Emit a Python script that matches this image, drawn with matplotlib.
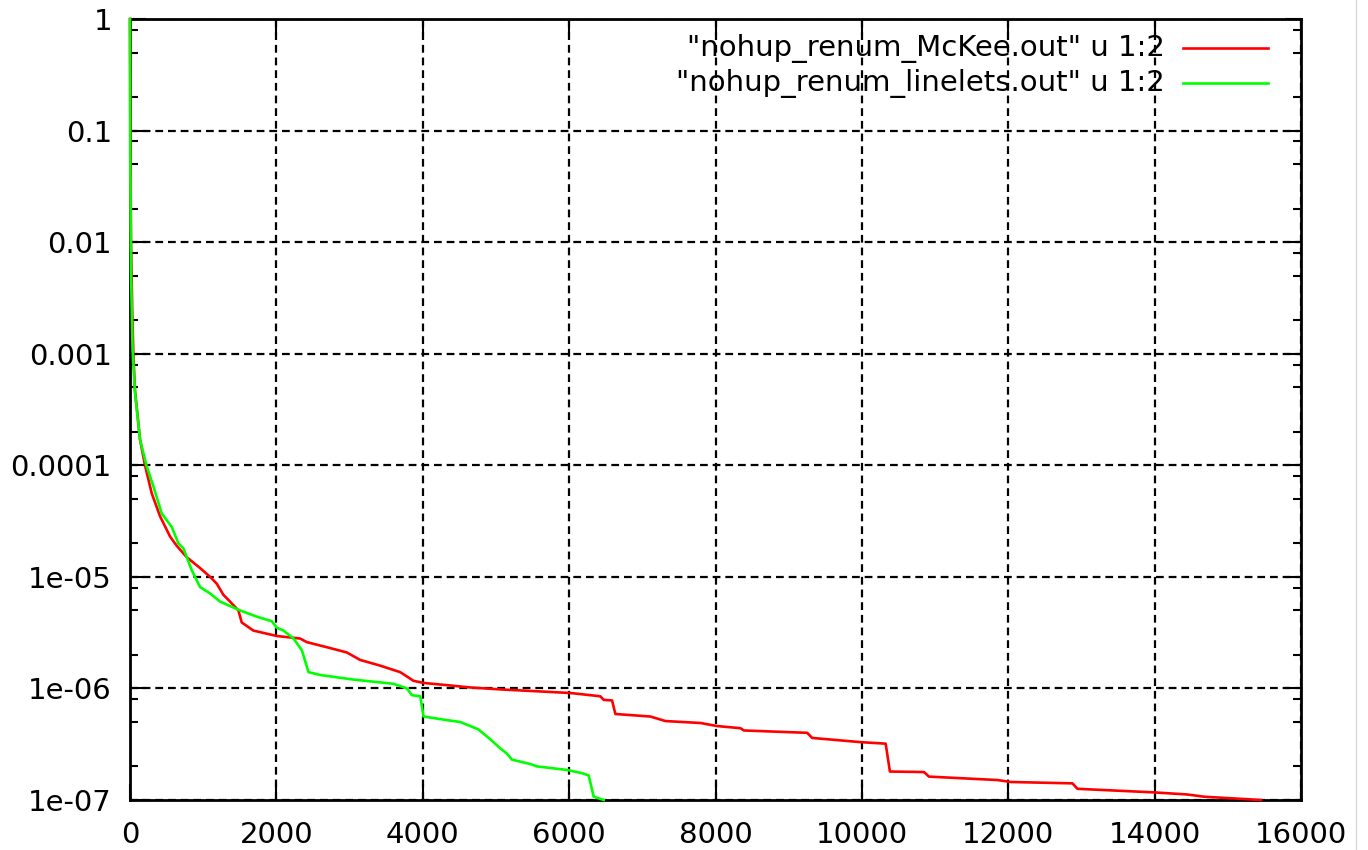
import matplotlib
matplotlib.use("Agg")
import matplotlib.pyplot as plt
from matplotlib.ticker import FixedLocator, FixedFormatter, LogLocator, NullFormatter
from matplotlib.lines import Line2D

# residual histories
mckee_it = [0, 4, 14, 30, 46, 68, 137, 205, 297, 410, 547, 638, 775, 957, 1094,
            1185, 1276, 1367, 1481, 1527, 1686, 2006, 2325, 2416, 2735, 2963,
            3145, 3419, 3692, 3874, 4011, 4330, 4650, 5060, 6017, 6290, 6427,
            6472, 6587, 6632, 7111, 7316, 7795, 8023, 8342, 8387, 9253, 9321,
            9983, 10325, 10383, 10849, 10917, 11852, 12034, 12877, 12945,
            13995, 14450, 14678, 15453]
mckee_res = [1.0, 0.1, 0.01, 2.5e-3, 9.8e-4, 4.7e-4, 1.7e-4, 1.0e-4, 5.6e-5,
             3.5e-5, 2.3e-5, 1.9e-5, 1.5e-5, 1.2e-5, 1.0e-5, 8.7e-6, 6.9e-6,
             6.0e-6, 5.0e-6, 3.9e-6, 3.3e-6, 2.95e-6, 2.8e-6, 2.6e-6, 2.3e-6,
             2.1e-6, 1.8e-6, 1.6e-6, 1.4e-6, 1.17e-6, 1.12e-6, 1.07e-6, 1.02e-6,
             9.8e-7, 9.1e-7, 8.7e-7, 8.5e-7, 7.9e-7, 7.8e-7, 5.9e-7, 5.6e-7,
             5.1e-7, 4.9e-7, 4.6e-7, 4.4e-7, 4.2e-7, 4.0e-7, 3.6e-7, 3.3e-7,
             3.2e-7, 1.8e-7, 1.78e-7, 1.62e-7, 1.51e-7, 1.45e-7, 1.41e-7,
             1.26e-7, 1.17e-7, 1.12e-7, 1.07e-7, 1.0e-7]

linelets_it = [0, 3, 15, 35, 68, 137, 228, 319, 433, 570, 661, 730, 843, 957,
               1094, 1231, 1504, 1732, 1937, 2006, 2097, 2234, 2348, 2439, 2598,
               3054, 3601, 3783, 3852, 3966, 4011, 4330, 4513, 4759, 4923, 5060,
               5151, 5219, 5470, 5561, 5971, 6176, 6267, 6336, 6473]
linelets_res = [1.0, 6.3e-2, 5.0e-3, 1.1e-3, 4.5e-4, 1.7e-4, 9.8e-5, 6.5e-5,
                3.7e-5, 2.8e-5, 2.0e-5, 1.8e-5, 1.15e-5, 8.1e-6, 7.1e-6, 6.0e-6,
                5.0e-6, 4.4e-6, 4.0e-6, 3.5e-6, 3.3e-6, 2.8e-6, 2.2e-6, 1.4e-6,
                1.32e-6, 1.2e-6, 1.1e-6, 1.0e-6, 8.7e-7, 8.5e-7, 5.6e-7, 5.2e-7,
                5.0e-7, 4.3e-7, 3.5e-7, 2.9e-7, 2.6e-7, 2.3e-7, 2.1e-7, 2.0e-7,
                1.86e-7, 1.74e-7, 1.66e-7, 1.07e-7, 1.0e-7]

labels = ['"nohup_renum_McKee.out" u 1:2', '"nohup_renum_linelets.out" u 1:2']
colors = ["#ff0000", "#00ff00"]

x_ticks = [0, 2000, 4000, 6000, 8000, 10000, 12000, 14000, 16000]
y_ticks = [1e-7, 1e-6, 1e-5, 1e-4, 1e-3, 1e-2, 1e-1, 1]
y_tick_labels = ["1e-07", "1e-06", "1e-05", "0.0001", "0.001", "0.01", "0.1", "1"]

plt.rcParams["font.family"] = "DejaVu Sans"
fig = plt.figure(figsize=(13.68, 8.5), dpi=100)
ax = fig.add_axes([130 / 1368, 50 / 850, 1171 / 1368, 781 / 850])

series = [(mckee_it, mckee_res), (linelets_it, linelets_res)]
for (xs, ys), c in zip(series, colors):
    ax.plot(xs, ys, color=c, lw=1.9, zorder=5, clip_on=False)

ax.set_yscale("log")
ax.set_xlim(0, 16000)
ax.set_ylim(1e-7, 1)

ax.xaxis.set_major_locator(FixedLocator(x_ticks))
ax.yaxis.set_major_locator(FixedLocator(y_ticks))
ax.yaxis.set_major_formatter(FixedFormatter(y_tick_labels))
ax.yaxis.set_minor_locator(LogLocator(base=10, subs=[2, 5, 8]))
ax.yaxis.set_minor_formatter(NullFormatter())
ax.xaxis.set_minor_locator(FixedLocator([]))

ax.tick_params(which="both", direction="in", top=True, right=True,
               labelsize=21, width=1.5, color="black")
ax.tick_params(which="major", length=11.5)
ax.tick_params(which="minor", length=5.8)
ax.tick_params(axis="x", pad=15)
ax.tick_params(axis="y", pad=13)

for s in ax.spines.values():
    s.set_linewidth(2.0)

ax.grid(True, which="major", color="black", lw=1.6, ls=(0, (3.5, 2.2)))
ax.set_axisbelow(False)

# gnuplot style key: right justified text, sample line after it
for i, (lab, c) in enumerate(zip(labels, colors)):
    yk = 0.9628 - i * 0.0448
    ax.text(0.8839, yk, lab, transform=ax.transAxes, ha="right",
            va="center", fontsize=21)
    ax.plot([0.8992, 0.9718], [yk, yk], transform=ax.transAxes, color=c,
            lw=1.9, clip_on=False)

fig.add_artist(Line2D([1356 / 1368, 1356 / 1368], [0, 1], color="#d8d8d8", lw=1))

fig.savefig("out.png", dpi=100)
